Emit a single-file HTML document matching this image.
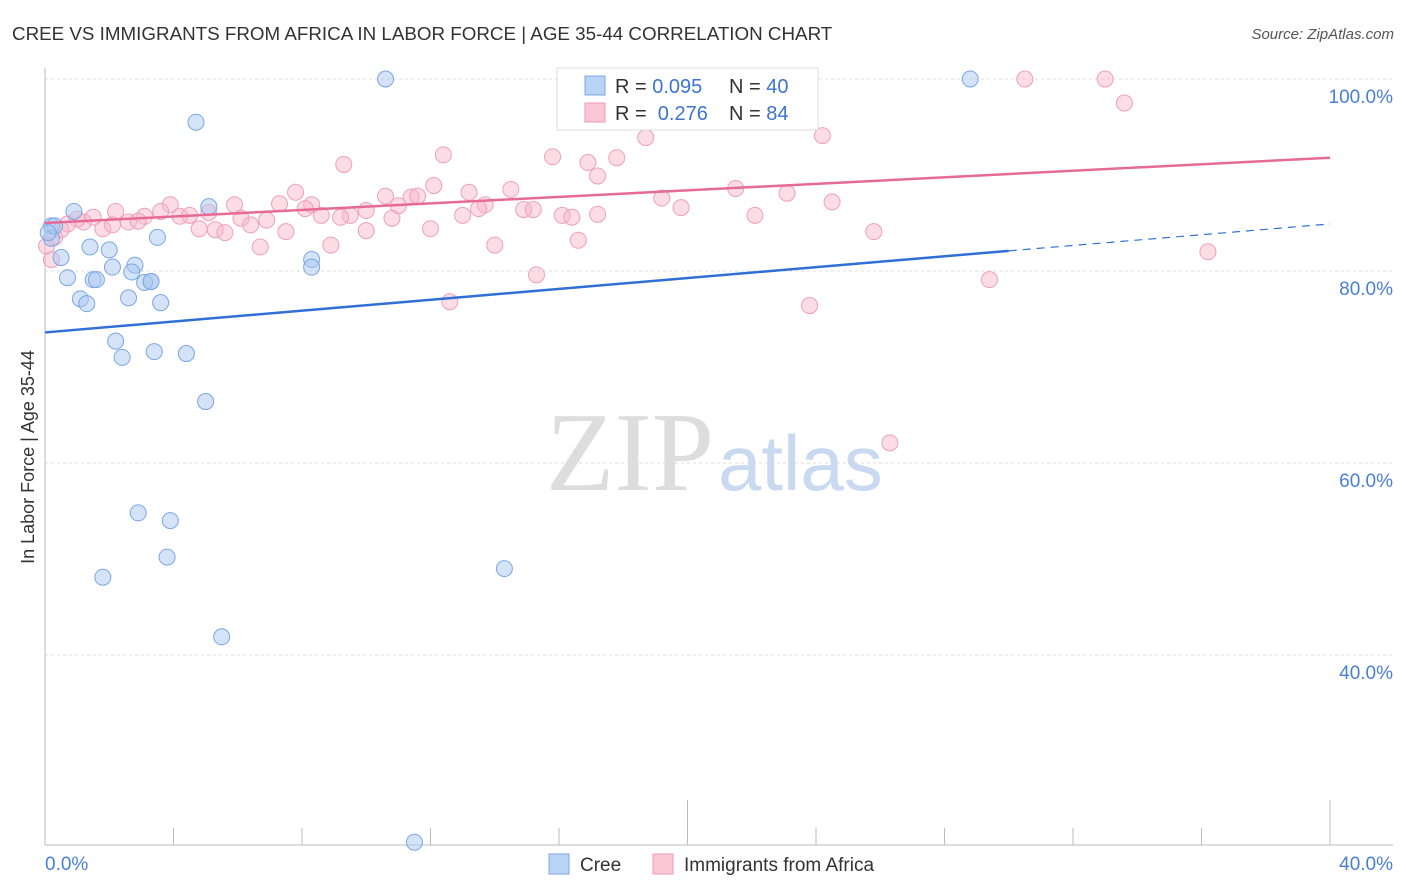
<!DOCTYPE html>
<html><head><meta charset="utf-8"><style>
body{margin:0;background:#fff;font-family:"Liberation Sans",sans-serif;}
svg{display:block}
</style></head><body>
<svg width="1406" height="892" xmlns="http://www.w3.org/2000/svg">
<text x="12" y="40" font-size="18.8" fill="#333">CREE VS IMMIGRANTS FROM AFRICA IN LABOR FORCE | AGE 35-44 CORRELATION CHART</text>
<text x="1394" y="39" font-size="15" fill="#555" text-anchor="end" font-style="italic">Source: ZipAtlas.com</text>
<g id="grid"></g>
<text x="714" y="490" font-size="112" fill="#ddd" text-anchor="end" font-family="Liberation Serif, serif">ZIP</text>
<text x="718" y="490" font-size="78" fill="#c9d9f0">atlas</text>
<g id="pts"></g>
<g id="lines"></g>
<text transform="translate(34,457) rotate(-90)" font-size="18" fill="#333" text-anchor="middle">In Labor Force | Age 35-44</text>
<text x="45" y="870" font-size="19" fill="#4a7fd6">0.0%</text>
<text x="1393" y="870" font-size="19" fill="#4a7fd6" text-anchor="end">40.0%</text>
<g>
<rect x="557" y="68" width="261" height="62" fill="#fff" stroke="#ddd"/>
<rect x="585" y="76" width="20" height="19" fill="#b9d3f5" stroke="#7aa7e6"/>
<rect x="585" y="103" width="20" height="19" fill="#fbc7d6" stroke="#ee9ab4"/>
<text x="615" y="93" font-size="20" fill="#333">R = <tspan fill="#3d74cf">0.095</tspan></text>
<text x="729" y="93" font-size="20" fill="#333">N = <tspan fill="#3d74cf">40</tspan></text>
<text x="615" y="120" font-size="20" fill="#333">R = &#160;<tspan fill="#3d74cf">0.276</tspan></text>
<text x="729" y="120" font-size="20" fill="#333">N = <tspan fill="#3d74cf">84</tspan></text>
</g>
<g>
<rect x="549" y="854" width="20" height="20" fill="#b9d3f5" stroke="#7aa7e6"/>
<text x="580" y="871" font-size="19" fill="#333">Cree</text>
<rect x="653" y="854" width="20" height="20" fill="#fbc7d6" stroke="#ee9ab4"/>
<text x="684" y="871" font-size="19" fill="#333">Immigrants from Africa</text>
</g>
</svg>
<script>
const yTicks=[100,80,60,40];
const xTicks=[0,4,8,12,16,20,24,28,32,36,40];
const creeX=[10.6,28.8,4.7,0.9,5.1,0.2,0.2,3.5,1.4,2,0.5,0.7,8.3,8.3,2.1,2.8,2.7,1.5,1.6,3.3,3.1,1.1,1.3,2.6,3.6,2.2,2.4,3.4,4.4,5,2.9,3.9,3.8,1.8,14.3,5.5,11.5,0.3,0.1,3.3];
const creeY=[100,100,95.5,86.2,86.7,84.7,83.4,83.5,82.5,82.2,81.4,79.3,81.2,80.4,80.4,80.6,79.9,79.1,79.1,78.9,78.8,77.1,76.6,77.2,76.7,72.7,71.0,71.6,71.4,66.4,54.8,54.0,50.2,48.1,49.0,41.9,20.5,84.7,84.0,78.9];
const afrX=[19.4,20.4,23.2,30.5,33,33.6,24.2,18.7,9.3,12.4,15.8,16.9,17.8,17.2,12.1,7.8,10.6,13.2,14.5,19.2,21.5,23.1,24.5,5.9,7.3,8.3,8.1,9.5,10,11,11.4,11.6,13.7,13.5,14.9,15.2,16.1,16.4,17.2,19.8,22.1,3.9,3.6,4.2,4.5,5.1,6.1,6.9,3.1,2.6,2.2,1.5,1.2,1,0.7,0.5,0.3,1.8,2.1,2.9,4.8,5.3,5.6,6.4,7.5,8.6,9.2,10,10.8,12,13,14,16.6,25.8,6.7,8.9,15.3,12.6,23.8,29.4,36.2,26.3,0.2,0.05];
const afrY=[100,100,100,100,100,97.5,94.1,93.9,91.1,92.1,91.9,91.3,91.8,89.9,88.9,88.2,87.8,88.2,88.5,87.6,88.6,88.1,87.2,86.9,87,86.9,86.5,85.8,86.3,86.8,87.7,87.8,86.9,86.5,86.4,86.4,85.8,85.6,85.9,86.6,85.8,86.9,86.2,85.7,85.8,86.1,85.5,85.3,85.7,85.1,86.2,85.6,85.1,85.4,84.9,84.3,83.5,84.4,84.8,85.2,84.4,84.3,84,84.8,84.1,85.8,85.6,84.2,85.5,84.4,85.8,82.7,83.2,84.1,82.5,82.7,79.6,76.8,76.4,79.1,82,62.1,81.2,82.6];
const creeTrend=[73.6,82.1,84.9];
const afrTrend=[85.0,91.8];
const X=v=>45+v/40*1285, Y=v=>79+(100-v)*9.6;
const ns="http://www.w3.org/2000/svg";
function mk(t,a,p){const e=document.createElementNS(ns,t);for(const k in a)e.setAttribute(k,a[k]);p.appendChild(e);return e;}
const g=document.getElementById('grid');
yTicks.forEach(t=>{
const l=mk('line',{x1:45,x2:1393,y1:Y(t),y2:Y(t),stroke:'#ddd','stroke-dasharray':'3,3'},g);


const tx=mk('text',{x:1393,y:Y(t)+24,'font-size':19,fill:'#4a7fd6','text-anchor':'end'},g);tx.textContent=t.toFixed(1)+'%';


});
const ax=mk('line',{x1:45,x2:45,y1:68,y2:845,stroke:'#bbb'},g);


const bx=mk('line',{x1:45,x2:1393,y1:845,y2:845,stroke:'#bbb'},g);


xTicks.forEach(t=>{const l=mk('line',{x1:X(t),x2:X(t),y1:(t==20||t==40)?800:828,y2:845,stroke:'#bbb'},g);

});
const p=document.getElementById('pts');
afrX.forEach((x,i)=>{const c=mk('circle',{cx:X(x),cy:Y(afrY[i]),r:8,fill:'rgba(248,180,200,0.45)',stroke:'#efa0b8','stroke-width':1},p);

});
creeX.forEach((x,i)=>{const c=mk('circle',{cx:X(x),cy:Y(creeY[i]),r:8,fill:'rgba(170,200,240,0.5)',stroke:'#7aa7e6','stroke-width':1},p);

});
const L=document.getElementById('lines');
let a=mk('line',{x1:X(0),y1:Y(creeTrend[0]),x2:X(30),y2:Y(creeTrend[1]),stroke:'#2f6fd6','stroke-width':2.5},L);


a=mk('line',{x1:X(30),y1:Y(creeTrend[1]),x2:X(40),y2:Y(creeTrend[2]),stroke:'#2f6fd6','stroke-width':1.2,'stroke-dasharray':'8,6'},L);


a=mk('line',{x1:X(0),y1:Y(afrTrend[0]),x2:X(40),y2:Y(afrTrend[1]),stroke:'#e56b96','stroke-width':2.5},L);


</script>
</body></html>
